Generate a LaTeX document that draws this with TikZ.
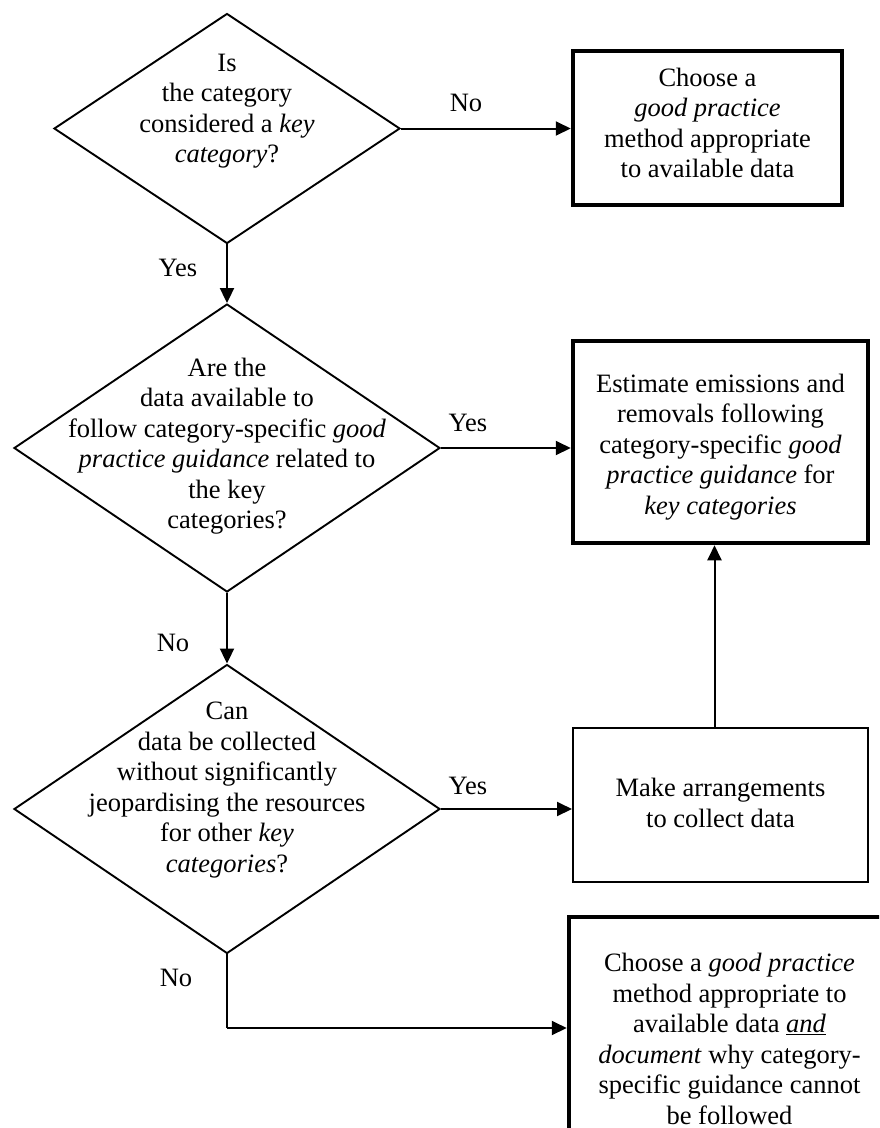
\documentclass[tikz,border=0pt]{standalone}
\usepackage{fontspec}
\setmainfont{Liberation Serif}
\usetikzlibrary{shapes.geometric,arrows.meta}
\begin{document}
\begin{tikzpicture}[x=1pt,y=-1pt,
  txt/.style={font={\fontsize{26.5}{30.5}\selectfont},align=center,inner sep=0pt},
  lbl/.style={font={\fontsize{26.5}{30.5}\selectfont},inner sep=0pt},
  dia/.style={draw,shape=diamond,line width=1.9pt,inner sep=0pt},
  thickbox/.style={draw,rectangle,line width=4.5pt,inner sep=0pt},
  thinbox/.style={draw,rectangle,line width=2pt,inner sep=0pt},
  arr/.style={line width=2pt,-{Triangle[length=15pt,width=14pt]}},
  ln/.style={line width=2pt}]
\useasboundingbox (0,0) rectangle (879,1128);
\clip (0,0) rectangle (879,1128);
\fill[white] (0,0) rectangle (879,1128);

% diamonds
\node[dia,minimum width=346pt,minimum height=230pt] (d1) at (227,128.5) {};
\node[txt] (t1) at (227,111) {Is\\the category\\considered a \textit{key}\\\textit{category}?};
\node[dia,minimum width=426pt,minimum height=288pt] (d2) at (227,448) {};
\node[txt] (t2) at (227,446) {Are the\\data available to\\follow category-specific \textit{good}\\\textit{practice guidance} related to\\the key\\categories?};
\node[dia,minimum width=426pt,minimum height=289pt] (d3) at (227,809) {};
\node[txt] (t3) at (227,790) {Can\\data be collected\\without significantly\\jeopardising the resources\\for other \textit{key}\\\textit{categories}?};

% boxes
\node[thickbox,minimum width=269pt,minimum height=154pt] (b1) at (707.5,128) {};
\node[txt] (bt1) at (707.5,123) {Choose a\\\textit{good practice}\\method appropriate\\to available data};
\node[thickbox,minimum width=295pt,minimum height=202pt] (b2) at (720.5,442) {};
\node[txt] (bt2) at (720.5,447) {Estimate emissions and\\removals following\\category-specific \textit{good}\\\textit{practice guidance} for\\\textit{key categories}};
\node[thinbox,minimum width=295pt,minimum height=154pt] (b3) at (720.5,805) {};
\node[txt] (bt3) at (720.5,803) {Make arrangements\\to collect data};
\node[thickbox,minimum width=321pt,minimum height=244pt] (b4) at (729.5,1039) {};
\node[txt] (bt4) at (729.5,1039) {Choose a \textit{good practice}\\method appropriate to\\available data \underline{\textit{and}}\\\textit{document} why category-\\specific guidance cannot\\be followed};

% connectors
\draw[arr] (d1.east) -- (d1.east -| b1.west);
\draw[arr] (d1.south) -- (d2.north);
\draw[arr] (d2.east) -- (d2.east -| b2.west);
\draw[arr] (d2.south) -- (d3.north);
\draw[arr] (d3.east) -- (d3.east -| b3.west);
\draw[arr] ([xshift=-6pt]b3.north) -- ([xshift=-6pt]b2.south);
\coordinate (c1) at (227,1028);
\draw[ln] (d3.south) -- (c1);
\draw[arr] (c1) -- (c1 -| b4.west);

% labels
\node[lbl] (l1) at (466,103) {No};
\node[lbl] (l2) at (178,268) {Yes};
\node[lbl] (l3) at (468,423) {Yes};
\node[lbl] (l4) at (173,643) {No};
\node[lbl] (l5) at (468,786) {Yes};
\node[lbl] (l6) at (176,978) {No};
\end{tikzpicture}
\end{document}
